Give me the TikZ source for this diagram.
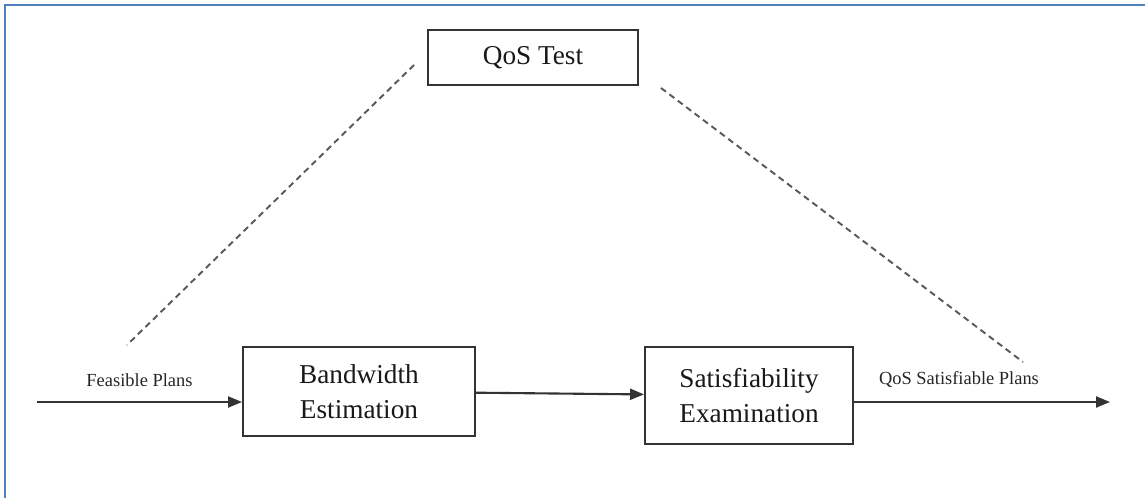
\documentclass[tikz,border=0pt]{standalone}
\usepackage{fontspec}
\setmainfont{Liberation Serif}
\usetikzlibrary{positioning, arrows.meta, calc}
\definecolor{framebl}{HTML}{4F81BD}
\definecolor{linegr}{HTML}{333333}
\begin{document}
\begin{tikzpicture}[
      b/.style={draw=linegr, line width=1.1pt, fill=white, text=black!90, font=\fontsize{15.5}{20}\selectfont, align=center, inner sep=0pt},
      arr/.style={-{Triangle[length=0.28cm, width=0.22cm]}, line width=1.2pt, color=linegr},
      dsh/.style={dash pattern=on 3.5pt off 2.5pt, line width=1.1pt, color=gray!70!black},
      lbl/.style={font=\fontsize{10.5}{12}\selectfont, text=black!85}]
    \useasboundingbox (0,0) rectangle (22.9,9.96);
    \draw[framebl, line width=1.5pt] (0.1,0) -- (0.1,9.86) -- (22.9,9.86);
    \node[b, minimum width=4.2cm, minimum height=1.1cm] (qos) at (10.66,8.81) {QoS Test};
    \node[b, minimum width=4.64cm, minimum height=1.78cm] (bw) at (7.18,2.13) {Bandwidth\\Estimation};
    \node[b, minimum width=4.16cm, minimum height=1.94cm] (sat) at (14.98,2.05) {Satisfiability\\Examination};
    \coordinate (in) at (0.74,1.92);
    \coordinate (out) at (22.2,1.92);
    \coordinate (dl) at (2.54,3.06);
    \coordinate (dr) at (20.46,2.72);
    \draw[arr] (in) -- node[lbl, above=0.16cm] (fp) {Feasible Plans} (in -| bw.west);
    \draw[arr] (bw) -- (sat);
    \draw[arr] (sat.east |- out) -- node[lbl, above=0.16cm, pos=0.41] (qp) {QoS Satisfiable Plans} (out);
    \draw[dsh] ([shift={(-0.26,-0.15)}]qos.west) -- (dl);
    \draw[dsh] ([shift={(0.44,-0.04)}]qos.south east) -- (dr);
\end{tikzpicture}
\end{document}
